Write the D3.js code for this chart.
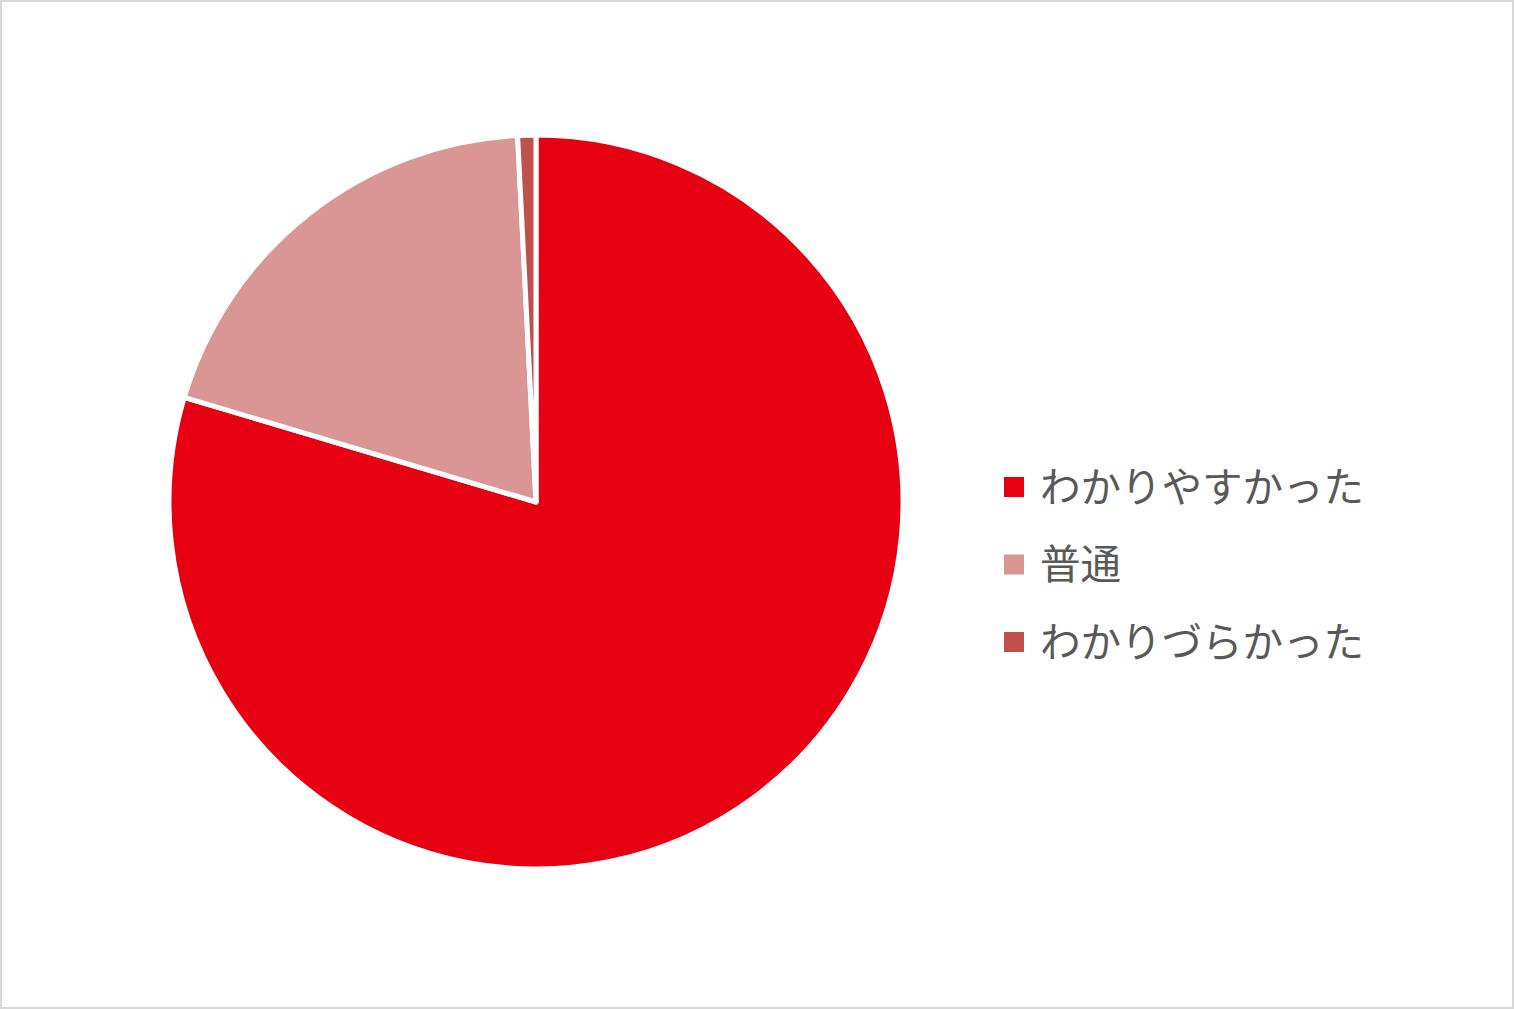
<!DOCTYPE html>
<html>
<head>
<meta charset="utf-8">
<script src="https://cdn.jsdelivr.net/npm/d3@7"></script>
<style>
  html, body { margin: 0; padding: 0; background: #fff; }
  svg { display: block; }
  .legend text { font-family: "Noto Sans CJK JP", sans-serif; fill: #595959; }
</style>
</head>
<body>
<svg width="1514" height="1009"></svg>
<script>
// answers and their share (%)
const labels = ['わかりやすかった', '普通', 'わかりづらかった'];
const values = [79.6, 19.6, 0.8];
const colors = ['#e60012', '#d99694', '#c0504d'];

const svg = d3.select('svg');
const width = +svg.attr('width');
const height = +svg.attr('height');

// chart area frame
svg.append('rect')
  .attr('x', 1).attr('y', 1)
  .attr('width', width - 2).attr('height', height - 2)
  .attr('fill', '#fff')
  .attr('stroke', '#d9d9d9')
  .attr('stroke-width', 2);

const color = d3.scaleOrdinal().domain(labels).range(colors);

const pie = d3.pie().sort(null).value(d => d.value);
const arc = d3.arc().innerRadius(0).outerRadius(367);

const data = labels.map((name, i) => ({ name, value: values[i] }));

const g = svg.append('g')
  .attr('transform', 'translate(536,502)');

g.selectAll('.slice')
  .data(pie(data))
  .enter().append('path')
    .attr('class', 'slice')
    .attr('d', arc)
    .attr('fill', d => color(d.data.name))
    .attr('stroke', '#fff')
    .attr('stroke-width', 5)
    .attr('stroke-linejoin', 'round');

// legend
const legend = svg.append('g')
  .attr('class', 'legend')
  .attr('transform', 'translate(1004,487)');

const item = legend.selectAll('.item')
  .data(labels)
  .enter().append('g')
    .attr('class', 'item')
    .attr('transform', (d, i) => `translate(0,${i * 77.5})`);

item.append('rect')
  .attr('x', 0).attr('y', -10)
  .attr('width', 20).attr('height', 20)
  .attr('fill', d => color(d));

item.append('text')
  .attr('x', 36)
  .attr('dy', '0.36em')
  .attr('font-size', 40.5)
  .text(d => d);
</script>
</body>
</html>
